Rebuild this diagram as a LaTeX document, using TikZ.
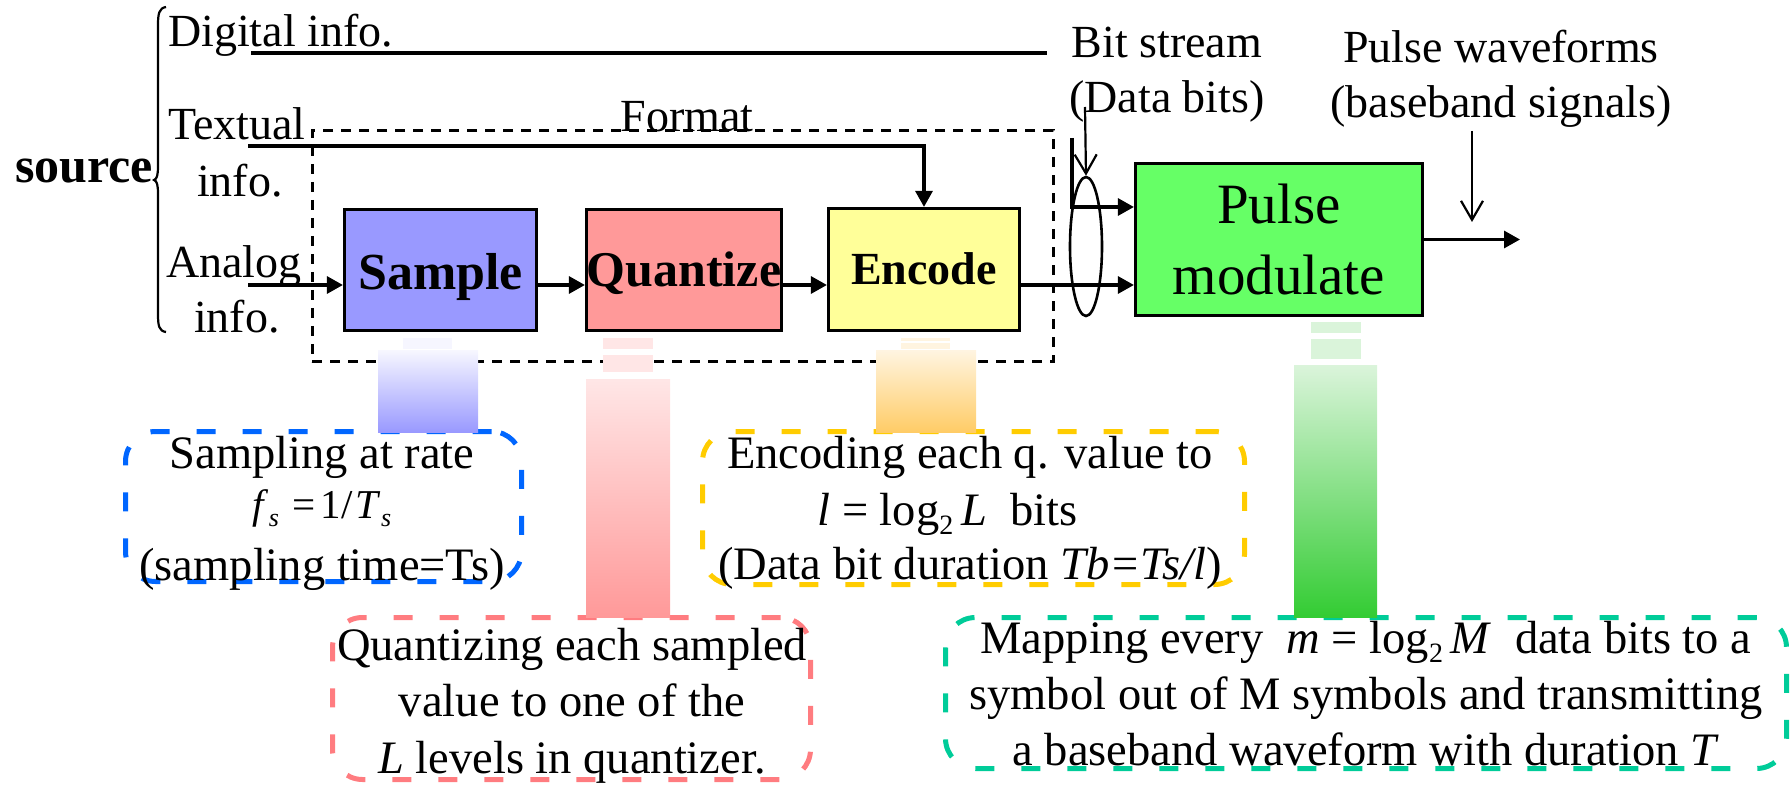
\documentclass[tikz,border=0pt]{standalone}
\usepackage{fontspec}
\setmainfont{Liberation Serif}
\usetikzlibrary{arrows.meta,shapes.geometric}
\definecolor{cS}{HTML}{9999FF}
\definecolor{cQ}{HTML}{FF9999}
\definecolor{cE}{HTML}{FFFF99}
\definecolor{cP}{HTML}{66FF66}
\definecolor{bBlue}{HTML}{0066FF}
\definecolor{bYel}{HTML}{FFCC00}
\definecolor{bPink}{HTML}{FF7C80}
\definecolor{bGreen}{HTML}{00CC99}
\definecolor{gBlueT}{HTML}{F6F6FF}
\definecolor{gPinkT}{HTML}{FFE6E6}
\definecolor{gOrT}{HTML}{FFF4E0}
\definecolor{gOrB}{HTML}{FFCC66}
\definecolor{gGrT}{HTML}{DAF4DA}
\definecolor{gGrB}{HTML}{33CC33}
\newcommand{\stk}[1]{\begin{tabular}[t]{@{}c@{}}#1\end{tabular}}
\newcommand{\fN}{\fontsize{46}{55}\selectfont}
\newcommand{\fC}{\fontsize{46.5}{56.5}\selectfont}
\newcommand{\subtwo}{\raisebox{-9pt}{\fontsize{28}{28}\selectfont 2}}
\newcommand{\subs}{\raisebox{-8pt}{\fontsize{26}{26}\selectfont\itshape s}}
\begin{document}
\begin{tikzpicture}[x=1pt,y=-1pt,
  lbl/.style={inner sep=0pt, font=\fN},
  clbl/.style={inner sep=0pt, font=\fC},
  blk/.style={draw=black, line width=3.2pt, inner sep=0pt},
  arr/.style={line width=3.2pt, -{Triangle[length=16pt,width=17pt]}},
  plain/.style={line width=3.2pt},
  thinarr/.style={line width=2.2pt, -{Straight Barb[length=19pt,width=22pt]}},
  callout/.style={line width=5pt, dash pattern=on 19pt off 27pt, rounded corners=30pt, inner sep=0pt},
  fmtbox/.style={draw, line width=3pt, dash pattern=on 10pt off 8pt, inner sep=0pt}]
\useasboundingbox (0,0) rectangle (1792,786);

% callout boxes
\node[callout, draw=bBlue, minimum width=396, minimum height=150] (cB) at (323.5,506.5) {};
\node[callout, draw=bYel, minimum width=542, minimum height=153] (cY) at (973.5,508) {};
\node[callout, draw=bPink, minimum width=478, minimum height=162] (cR) at (571.5,698.5) {};
\node[callout, draw=bGreen, minimum width=841, minimum height=151] (cG) at (1366,693) {};

% format box
\node[fmtbox, minimum width=741, minimum height=231] (format) at (682.5,246.5) {};
\node[lbl, anchor=base] (fmtL) at (687,132) {Format};

% gradient bars
\fill[gBlueT] (403,338) rectangle (452,349);
\shade[top color=gBlueT, bottom color=cS] (378,351) rectangle (478,432);
\fill[gPinkT] (603,338) rectangle (653,349);
\fill[gPinkT] (603,355) rectangle (653,372);
\shade[top color=gPinkT, bottom color=cQ] (586,380) rectangle (670,617);
\fill[gOrT] (901,338) rectangle (950,341);
\fill[gOrT] (901,343) rectangle (950,349);
\shade[top color=gOrT, bottom color=gOrB] (876,351) rectangle (976,432);
\fill[gGrT] (1311,322) rectangle (1361,333);
\fill[gGrT] (1311,339) rectangle (1361,359);
\shade[top color=gGrT, bottom color=gGrB] (1294,366) rectangle (1377,617);

% blocks
\node[blk, fill=cS, minimum width=192, minimum height=121, text height=45pt, text depth=5pt,
  font=\bfseries\fontsize{52}{60}\selectfont] (sample) at (440.5,270) {Sample};
\node[blk, fill=cQ, minimum width=195, minimum height=121, text height=42pt, text depth=8pt,
  font=\bfseries\fontsize{50}{60}\selectfont] (quant) at (684,270) {Quantize};
\node[blk, fill=cE, minimum width=191, minimum height=122, text height=38pt, text depth=8pt,
  font=\bfseries\fontsize{46}{55}\selectfont] (encode) at (924,269.5) {Encode};
\node[blk, fill=cP, minimum width=287, minimum height=152, align=center,
  font=\fontsize{57}{71}\selectfont] (pulse) at (1279,239.5) {Pulse\\modulate};

% ellipse
\node[draw, ellipse, line width=2.6pt, minimum width=32, minimum height=139, inner sep=0pt] (bundle) at (1086,246.5) {};

% source labels
\node[inner sep=0pt, anchor=base west, font=\bfseries\fontsize{50}{60}\selectfont] (source) at (15,183) {source};
\draw[line width=2.2pt] (166,7) .. controls (159,8) and (158,14) .. (158,25) -- (158,166)
  .. controls (158,175) and (157,179) .. (154,180) .. controls (157,181) and (158,185) .. (158,194)
  -- (158,314) .. controls (158,326) and (159,331) .. (166,332);
\node[lbl, anchor=base west] (digital) at (168,47) {Digital info.};
\node[lbl, anchor=base] (textual) at (237,140) {\stk{Textual\\[2pt]\hspace*{6pt}info.}};
\node[lbl, anchor=base] (analog) at (234,278) {\stk{Analog\\\hspace*{6pt}info.}};
\node[lbl, anchor=base] (bits) at (1167,58) {\stk{Bit stream\\(Data bits)}};
\node[lbl, anchor=base] (pw) at (1501,63) {\stk{Pulse waveforms\\(baseband signals)}};

% coordinates
\coordinate (dIn) at (251,53);
\coordinate (dEnd) at (1047,53);
\coordinate (tIn) at (248,146);
\coordinate (aIn) at (248,285);
\coordinate (bTop) at (1072,138);
\coordinate (bTurn) at (1072,207);
\coordinate (pOut) at (1520,239.5);
\coordinate (bsA) at (1085,107);
\coordinate (pwA) at (1472,131);
\coordinate (pwB) at (1472,222);

% connectors
\draw[plain] (dIn) -- (dEnd);
\draw[arr] (tIn) -| (encode.north);
\draw[arr] (aIn) -- (aIn -| sample.west);
\draw[arr] (sample.east |- aIn) -- (aIn -| quant.west);
\draw[arr] (quant.east |- aIn) -- (aIn -| encode.west);
\draw[arr] (encode.east |- aIn) -- (aIn -| pulse.west);
\draw[arr] (bTop) -- (bTurn) -- (bTurn -| pulse.west);
\draw[arr] (pulse.east) -- (pOut);
\draw[thinarr] (bsA) -- (bundle.north);
\draw[thinarr] (pwA) -- (pwB);

% callout texts
\node[clbl, anchor=base] (tB) at (322,468) {\fontsize{46.5}{50}\selectfont\stk{Sampling at rate\\
  {\fontsize{41}{44}\selectfont\textit{f}\subs\hspace{14pt}=\hspace{4pt}1\hspace{1pt}/\hspace{3pt}\textit{T}\subs}\\[12pt]
  (sampling time=Ts)}};
\node[clbl, anchor=base] (tY) at (970,468) {\stk{Encoding each q. value to\\[0.5pt]
  \textit{l} = log\subtwo\,\textit{L}\ \ bits\hspace*{45pt}\\[-2pt]
  (Data bit duration \textit{Tb=Ts/l})}};
\node[clbl, anchor=base] (tR) at (572,660) {\stk{Quantizing each sampled\\
  value to one of the\\
  \textit{L} levels in quantizer.}};
\node[clbl, anchor=base] (tG) at (1366,653) {\stk{Mapping every\ \ \textit{m} = log\subtwo\,\textit{M}\ \ data bits to a\\
  symbol out of M symbols and transmitting\\[-1pt]
  a baseband waveform with duration \textit{T}}};
\end{tikzpicture}
\end{document}
